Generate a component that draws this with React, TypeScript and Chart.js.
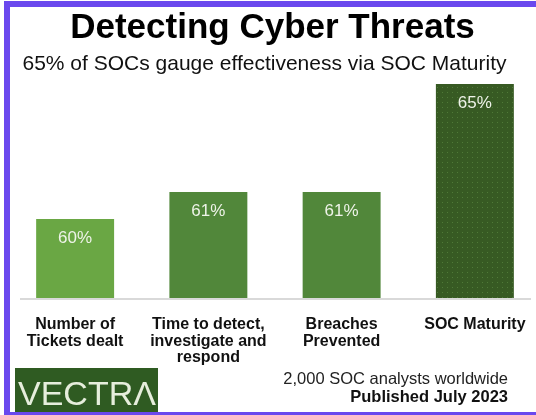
import { useEffect, useRef } from "react";
import { Chart, registerables } from "chart.js";

Chart.register(...registerables);

const categories: string[][] = [
  ["Number of", "Tickets dealt"],
  ["Time to detect,", "investigate and", "respond"],
  ["Breaches", "Prevented"],
  ["SOC Maturity"],
];
const values = [60, 61, 61, 65];
const valueLabels = ["60%", "61%", "61%", "65%"];
const barColors = ["#6aa744", "#51873a", "#51873a", "pattern"];
const titleText = "Detecting Cyber Threats";
const subtitleText = "65% of SOCs gauge effectiveness via SOC Maturity";
const footerLines = ["2,000 SOC analysts worldwide", "Published July 2023"];
const logoText = "VECTRΛ";

const FONT = "'Liberation Sans', Arial, Helvetica, sans-serif";

function makePattern(ctx: CanvasRenderingContext2D) {
  const c = document.createElement("canvas");
  c.width = 5;
  c.height = 5;
  const p = c.getContext("2d")!;
  p.fillStyle = "#375a23";
  p.fillRect(0, 0, 5, 5);
  p.fillStyle = "#4f7a37";
  p.fillRect(2, 2, 1, 1);
  return ctx.createPattern(c, "repeat")!;
}

const decorPlugin = {
  id: "decor",
  beforeDraw(chart: any) {
    const ctx = chart.ctx;
    ctx.save();
    ctx.fillStyle = "#ffffff";
    ctx.fillRect(0, 0, chart.width, chart.height);
    ctx.restore();
  },
  afterDraw(chart: any) {
    const ctx: CanvasRenderingContext2D = chart.ctx;
    const area = chart.chartArea;
    ctx.save();
    // axis line
    ctx.fillStyle = "#d9d9d9";
    ctx.fillRect(20, area.bottom, 511, 2);
    // value labels
    const meta = chart.getDatasetMeta(0);
    ctx.fillStyle = "#eef3e8";
    ctx.font = `17px ${FONT}`;
    ctx.textAlign = "center";
    ctx.textBaseline = "middle";
    meta.data.forEach((bar: any, i: number) => {
      ctx.fillText(valueLabels[i], bar.x, bar.y + 19);
    });
    // title + subtitle
    ctx.fillStyle = "#000000";
    ctx.textBaseline = "alphabetic";
    ctx.font = `bold 35px ${FONT}`;
    ctx.fillText(titleText, 272.5, 38);
    ctx.fillStyle = "#111111";
    ctx.font = `21px ${FONT}`;
    ctx.fillText(subtitleText, 264.5, 70);
    // logo
    ctx.fillStyle = "#2f5b22";
    ctx.fillRect(15, 368, 143, 44);
    ctx.fillStyle = "#e6eedc";
    ctx.textAlign = "left";
    ctx.font = `34px ${FONT}`;
    ctx.fillText(logoText, 18, 405);
    // footer
    ctx.textAlign = "right";
    ctx.fillStyle = "#222222";
    ctx.font = `16.5px ${FONT}`;
    ctx.fillText(footerLines[0], 508, 384);
    ctx.fillStyle = "#111111";
    ctx.font = `bold 16.5px ${FONT}`;
    ctx.fillText(footerLines[1], 508, 402);
    // frame
    ctx.fillStyle = "#6a48ee";
    ctx.fillRect(4, 1, 6, 414);
    ctx.fillRect(4, 1, chart.width, 6);
    ctx.fillRect(4, 412, chart.width, 3);
    ctx.restore();
  },
};

export default function App() {
  const ref = useRef<HTMLCanvasElement>(null);
  useEffect(() => {
    const canvas = ref.current!;
    const ctx = canvas.getContext("2d")!;
    const pattern = makePattern(ctx);
    const colors = barColors.map((c) => (c === "pattern" ? pattern : c));
    const chart = new Chart(canvas, {
      type: "bar",
      data: {
        labels: categories,
        datasets: [
          {
            data: values,
            backgroundColor: colors as any,
            borderWidth: 0,
            categoryPercentage: 1,
            barPercentage: 0.585,
          },
        ],
      },
      options: {
        animation: false,
        responsive: false,
        devicePixelRatio: 1,
        layout: { padding: { left: 8.5, right: 4.5, top: 80, bottom: 40 } },
        plugins: {
          legend: { display: false },
          title: { display: false },
          tooltip: { enabled: false },
        },
        scales: {
          x: {
            grid: { display: false },
            border: { display: false },
            ticks: {
              padding: 10.5,
              color: "#111111",
              font: { family: FONT, size: 16, weight: "bold", lineHeight: 1.03 },
              maxRotation: 0,
              autoSkip: false,
            },
            afterFit: (s: any) => {
              s.height = 77;
            },
          },
          y: { display: false, min: 57.07, max: 65.15 },
        },
      },
      plugins: [decorPlugin],
    });
    return () => chart.destroy();
  }, []);
  return (
    <div
      style={{
        position: "fixed",
        left: 0,
        top: 0,
        width: 536,
        height: 415,
        overflow: "hidden",
        background: "#fff",
      }}
    >
      <canvas ref={ref} width={546} height={415} style={{ display: "block", width: 546, height: 415 }} />
    </div>
  );
}
